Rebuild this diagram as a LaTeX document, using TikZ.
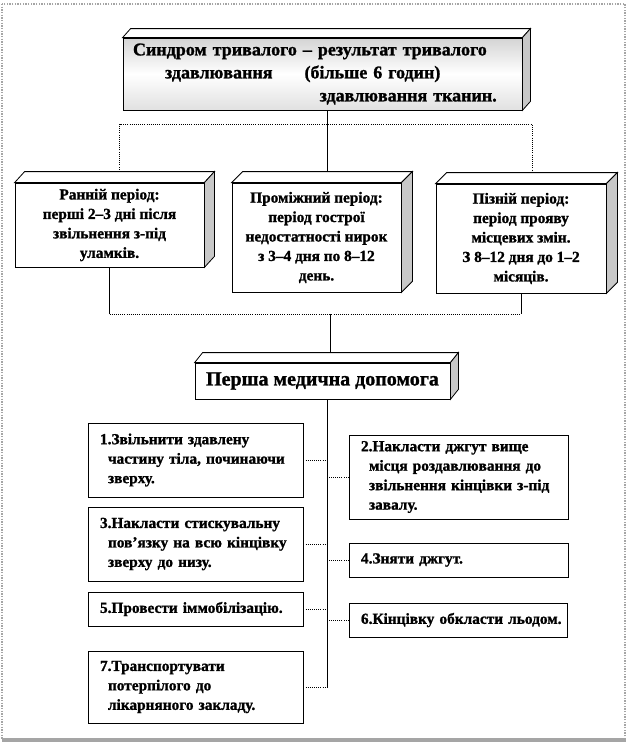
\documentclass[tikz,border=0pt]{standalone}
\usepackage{fontspec}
\setmainfont{Liberation Serif}[BoldFeatures={FakeBold=1.2}]
\usetikzlibrary{calc}
\definecolor{ColSide}{RGB}{200,200,200}
\definecolor{ColFrame}{RGB}{165,165,165}
\definecolor{ColShade}{RGB}{212,212,212}
\newcommand{\ind}{\hspace*{6pt}}
\newcommand{\boxfaces}[3]{%
  \filldraw[fill=white, draw=black, line width=0.6pt] (#1.north west) -- ++(#2,#3)
    -- ([shift={(#2,#3)}]#1.north east) -- (#1.north east) -- cycle;
  \filldraw[fill=ColSide, draw=black, line width=0.6pt] (#1.north east) -- ++(#2,#3)
    -- ([shift={(#2,#3)}]#1.south east) -- (#1.south east) -- cycle;
  \coordinate (#1 top) at ([shift={(#2,#3)}]#1.north);
}

\begin{document}
\begin{tikzpicture}[
  x=0.75pt, y=-0.75pt,
  every node/.style={font=\bfseries\fontsize{11.5pt}{14.6pt}\selectfont},
  front/.style={draw, line width=0.6pt, fill=white, inner sep=0pt, align=center},
  flatbox/.style={draw, line width=0.6pt, fill=white, inner sep=0pt, align=left,
    execute at begin node={\leftskip=9pt}},
  link/.style={line width=0.6pt},
  dotlink/.style={line width=0.6pt, densely dotted}
]
  \useasboundingbox (0,0) rectangle (628,743);

  % Outer frame
  \draw[ColFrame, densely dotted, line width=1pt] (2,4) rectangle (625,740);
  \draw[ColFrame, line width=2.5pt] (2,740) -- (626,740);

  % Title block
  \node[front, top color=ColShade, bottom color=ColShade!70, middle color=white,
    minimum width=299.25pt, minimum height=54pt, text width=299.25pt, align=left,
    execute at begin node={\leftskip=7.5pt},
    font=\bfseries\fontsize{13.5pt}{17.25pt}\selectfont] (title) at (322.5,74)
    {Синдром тривалого – результат тривалого\\
     \hspace*{24pt}здавлювання\hspace{24pt}(більше 6 годин)\\
     \hspace*{140pt}здавлювання тканин.};

  % Three periods
  \node[front, minimum width=141.75pt, minimum height=63pt] (early) at (109.5,225)
    {Ранній період:\\перші 2–3 дні після\\звільнення з-під\\уламків.};
  \node[front, minimum width=126.75pt, minimum height=81.75pt] (mid) at (316.5,237.5)
    {Проміжний період:\\період гострої\\недостатності нирок\\з 3–4 дня по 8–12\\день.};
  \node[front, minimum width=127.5pt, minimum height=81.75pt] (late) at (521,238.5)
    {Пізній період:\\період прояву\\місцевих змін.\\З 8–12 дня до 1–2\\місяців.};

  % First aid
  \node[front, minimum width=191.25pt, minimum height=27pt,
    font=\bfseries\fontsize{15pt}{18pt}\selectfont] (aid) at (322.5,381)
    {Перша медична допомога};

  \boxfaces{title}{8}{-9}
  \boxfaces{early}{10}{-11}
  \boxfaces{mid}{11}{-11}
  \boxfaces{late}{11}{-11}
  \boxfaces{aid}{8}{-10}

  % Steps, left column
  \node[flatbox, text width=161.25pt, minimum height=55.5pt] (s1) at (195.5,460)
    {1.Звільнити здавлену\\\ind частину тіла, починаючи\\\ind зверху.};
  \node[flatbox, text width=161.25pt, minimum height=55.5pt] (s3) at (195.5,544)
    {3.Накласти стискувальну\\\ind пов’язку на всю кінцівку\\\ind зверху до низу.};
  \node[flatbox, text width=161.25pt, minimum height=25.5pt] (s5) at (195.5,609)
    {5.Провести іммобілізацію.};
  \node[flatbox, text width=161.25pt, minimum height=54pt] (s7) at (195.5,687)
    {7.Транспортувати\\\ind потерпілого до\\\ind лікарняного закладу.};

  % Steps, right column
  \node[flatbox, text width=164.25pt, minimum height=63pt] (s2) at (458.5,477)
    {2.Накласти джгут вище\\\ind місця роздавлювання до\\\ind звільнення кінцівки з-під\\\ind завалу.};
  \node[flatbox, text width=164.25pt, minimum height=25.5pt] (s4) at (458.5,560)
    {4.Зняти джгут.};
  \node[flatbox, text width=163.5pt, minimum height=25.5pt] (s6) at (458,620)
    {6.Кінцівку обкласти льодом.};

  % Buses and spine
  \coordinate (busA) at (0,124);
  \coordinate (busB) at (0,314);
  \coordinate (spine) at (327,687);

  \draw[link] (title.south -| mid top) -- (mid top);
  \draw[dotlink] (early top) -- (early top |- busA) -- (late top |- busA) -- (late top);
  \draw[link] (early.south) -- (early.south |- busB);
  \draw[link] (late.south) -- (late.south |- busB);
  \draw[dotlink] (early.south |- busB) -- (late.south |- busB);
  \draw[link] (aid top |- busB) -- (aid top);
  \draw[link] (aid.south -| spine) -- (spine);

  % Links to the spine
  \draw[dotlink] (s1.east) -- (s1.east -| spine);
  \draw[dotlink] (s3.east) -- (s3.east -| spine);
  \draw[dotlink] (s5.east) -- (s5.east -| spine);
  \draw[dotlink] (s7.east) -- (s7.east -| spine);
  \draw[dotlink] (s2.west) -- (s2.west -| spine);
  \draw[dotlink] (s4.west) -- (s4.west -| spine);
  \draw[dotlink] (s6.west) -- (s6.west -| spine);
\end{tikzpicture}
\end{document}
